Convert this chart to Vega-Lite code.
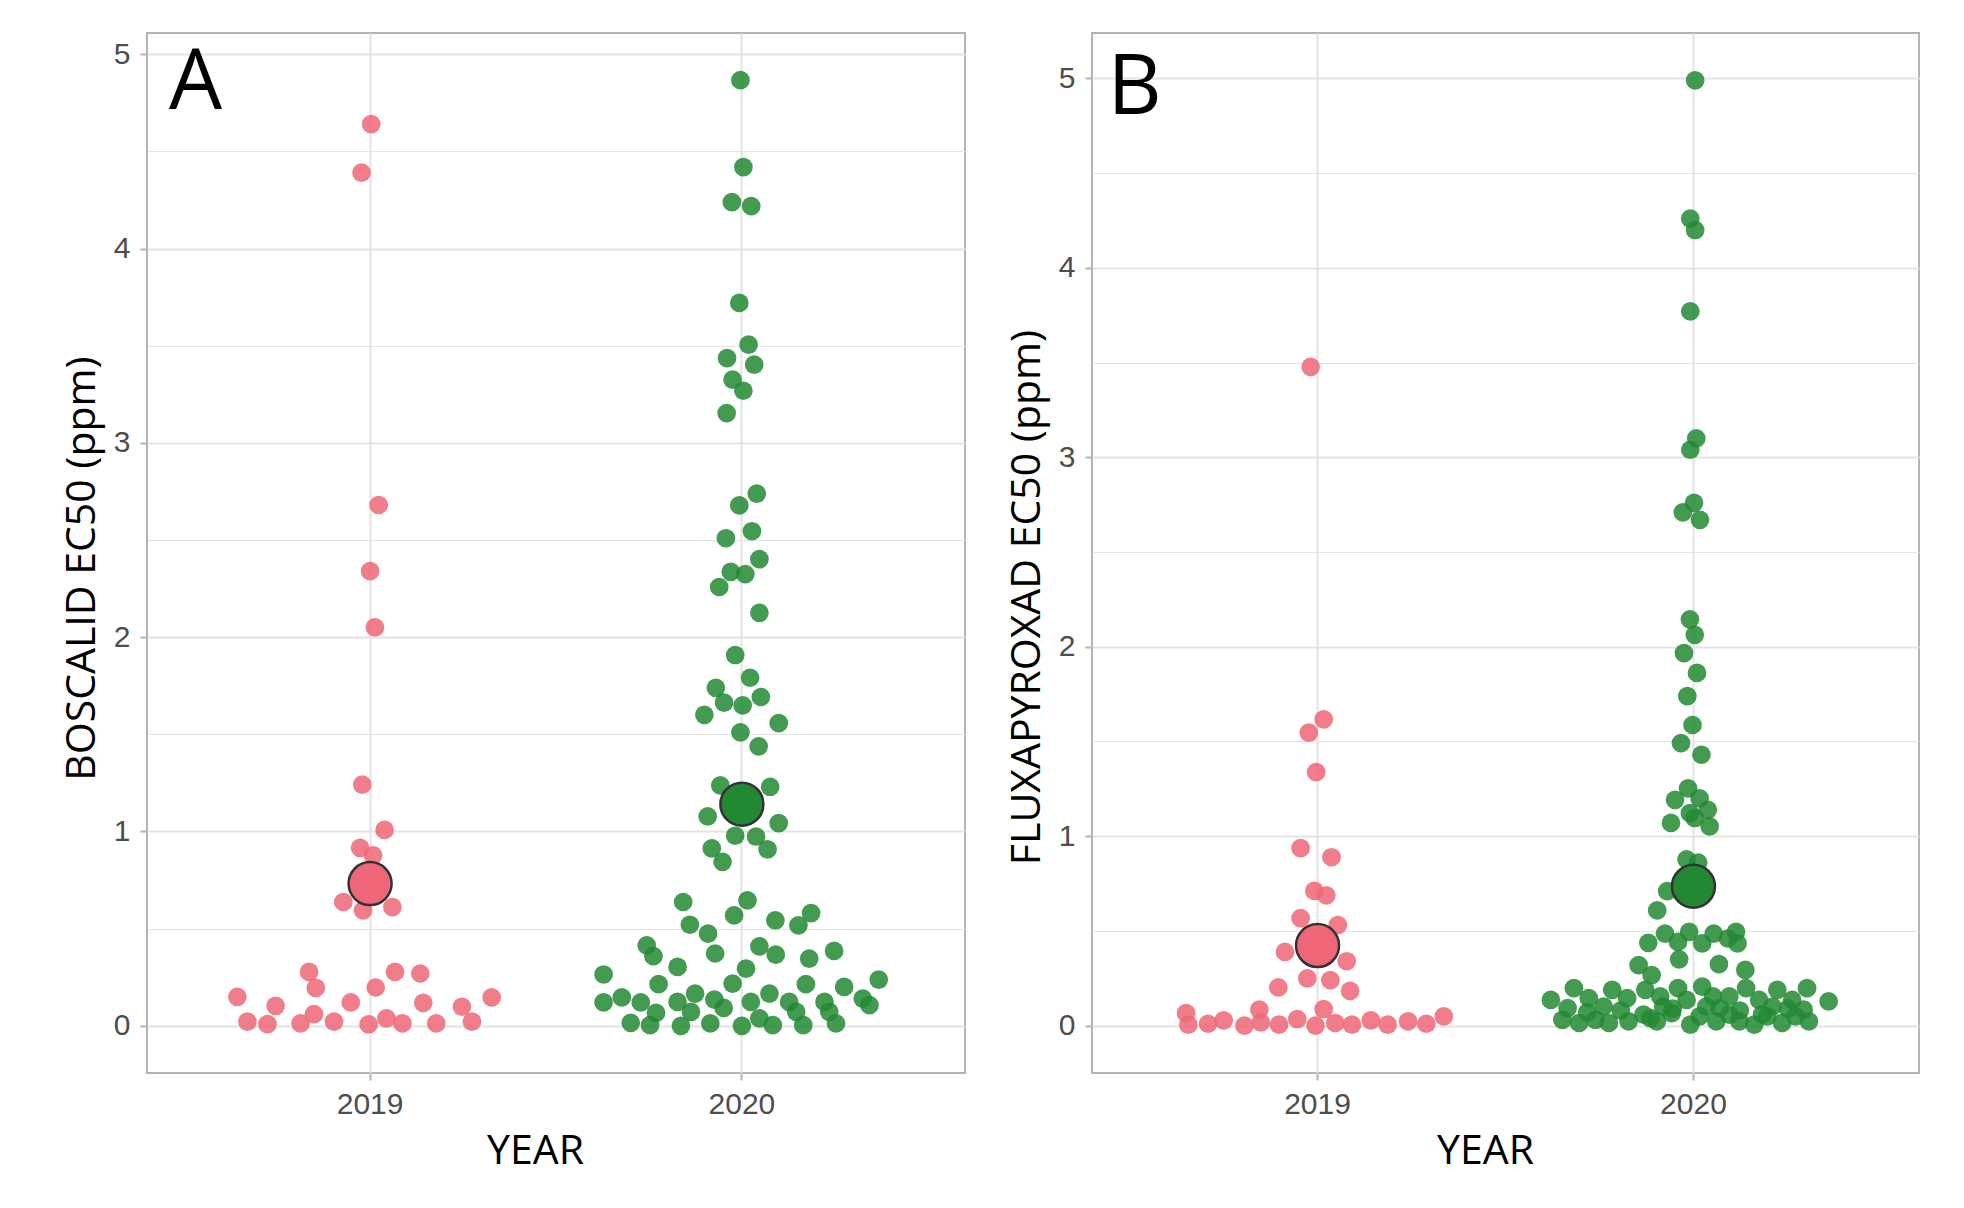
{
  "$schema": "https://vega.github.io/schema/vega-lite/v6.json",
  "background": "white",
  "padding": {"left": 60, "top": 32, "right": 20, "bottom": 22},
  "bounds": "flush",
  "spacing": 127,
  "config": {
    "view": {"stroke": "#B3B3B3", "strokeWidth": 2},
    "axis": {
      "domain": false,
      "labelFont": "Liberation Sans",
      "labelFontSize": 30,
      "labelColor": "#4D4D4D",
      "tickColor": "#B3B3B3",
      "tickWidth": 2,
      "tickSize": 7,
      "titleFont": "Open Sans",
      "titleFontSize": 41,
      "titleFontWeight": "normal",
      "titleColor": "black",
      "gridColor": "#E3E3E3",
      "gridWidth": 2
    }
  },
  "datasets": {
    "boscalid": [
      {"year": "2019", "dx": 0.003, "ec50": 4.64},
      {"year": "2019", "dx": -0.023, "ec50": 4.39},
      {"year": "2019", "dx": 0.023, "ec50": 2.68},
      {"year": "2019", "dx": 0.0, "ec50": 2.34},
      {"year": "2019", "dx": 0.013, "ec50": 2.05},
      {"year": "2019", "dx": -0.021, "ec50": 1.241},
      {"year": "2019", "dx": 0.039, "ec50": 1.008},
      {"year": "2019", "dx": -0.027, "ec50": 0.916},
      {"year": "2019", "dx": 0.008, "ec50": 0.877},
      {"year": "2019", "dx": -0.072, "ec50": 0.637},
      {"year": "2019", "dx": -0.019, "ec50": 0.594},
      {"year": "2019", "dx": 0.06, "ec50": 0.611},
      {"year": "2019", "dx": -0.164, "ec50": 0.277},
      {"year": "2019", "dx": -0.146, "ec50": 0.195},
      {"year": "2019", "dx": -0.357, "ec50": 0.149},
      {"year": "2019", "dx": -0.254, "ec50": 0.103},
      {"year": "2019", "dx": -0.33, "ec50": 0.021},
      {"year": "2019", "dx": -0.276, "ec50": 0.009},
      {"year": "2019", "dx": -0.187, "ec50": 0.012},
      {"year": "2019", "dx": -0.151, "ec50": 0.06},
      {"year": "2019", "dx": -0.097, "ec50": 0.021},
      {"year": "2019", "dx": -0.052, "ec50": 0.12},
      {"year": "2019", "dx": -0.004, "ec50": 0.007},
      {"year": "2019", "dx": 0.015, "ec50": 0.197},
      {"year": "2019", "dx": 0.044, "ec50": 0.038},
      {"year": "2019", "dx": 0.067, "ec50": 0.277},
      {"year": "2019", "dx": 0.087, "ec50": 0.012},
      {"year": "2019", "dx": 0.135, "ec50": 0.269},
      {"year": "2019", "dx": 0.143, "ec50": 0.118},
      {"year": "2019", "dx": 0.178, "ec50": 0.012},
      {"year": "2019", "dx": 0.247, "ec50": 0.098},
      {"year": "2019", "dx": 0.274, "ec50": 0.021},
      {"year": "2019", "dx": 0.327, "ec50": 0.146},
      {"year": "2020", "dx": -0.004, "ec50": 4.866},
      {"year": "2020", "dx": 0.004, "ec50": 4.419},
      {"year": "2020", "dx": -0.027, "ec50": 4.239},
      {"year": "2020", "dx": 0.025, "ec50": 4.218},
      {"year": "2020", "dx": -0.007, "ec50": 3.72},
      {"year": "2020", "dx": 0.018, "ec50": 3.505},
      {"year": "2020", "dx": -0.04, "ec50": 3.436},
      {"year": "2020", "dx": 0.033, "ec50": 3.402},
      {"year": "2020", "dx": -0.025, "ec50": 3.325},
      {"year": "2020", "dx": 0.004, "ec50": 3.268},
      {"year": "2020", "dx": -0.041, "ec50": 3.153},
      {"year": "2020", "dx": 0.04, "ec50": 2.739},
      {"year": "2020", "dx": -0.007, "ec50": 2.678},
      {"year": "2020", "dx": 0.027, "ec50": 2.545},
      {"year": "2020", "dx": -0.043, "ec50": 2.509},
      {"year": "2020", "dx": 0.047, "ec50": 2.401},
      {"year": "2020", "dx": -0.03, "ec50": 2.336},
      {"year": "2020", "dx": 0.009, "ec50": 2.324},
      {"year": "2020", "dx": -0.061, "ec50": 2.258},
      {"year": "2020", "dx": 0.047, "ec50": 2.125},
      {"year": "2020", "dx": -0.018, "ec50": 1.908},
      {"year": "2020", "dx": 0.022, "ec50": 1.791},
      {"year": "2020", "dx": -0.07, "ec50": 1.739},
      {"year": "2020", "dx": -0.048, "ec50": 1.663},
      {"year": "2020", "dx": 0.002, "ec50": 1.649},
      {"year": "2020", "dx": 0.051, "ec50": 1.692},
      {"year": "2020", "dx": -0.101, "ec50": 1.6},
      {"year": "2020", "dx": 0.099, "ec50": 1.557},
      {"year": "2020", "dx": -0.004, "ec50": 1.51},
      {"year": "2020", "dx": 0.045, "ec50": 1.438},
      {"year": "2020", "dx": -0.058, "ec50": 1.237},
      {"year": "2020", "dx": 0.076, "ec50": 1.23},
      {"year": "2020", "dx": -0.092, "ec50": 1.078},
      {"year": "2020", "dx": 0.099, "ec50": 1.043},
      {"year": "2020", "dx": -0.018, "ec50": 0.978},
      {"year": "2020", "dx": 0.038, "ec50": 0.974},
      {"year": "2020", "dx": -0.081, "ec50": 0.913},
      {"year": "2020", "dx": 0.069, "ec50": 0.908},
      {"year": "2020", "dx": -0.052, "ec50": 0.844},
      {"year": "2020", "dx": -0.158, "ec50": 0.637},
      {"year": "2020", "dx": 0.015, "ec50": 0.645},
      {"year": "2020", "dx": -0.021, "ec50": 0.568},
      {"year": "2020", "dx": -0.14, "ec50": 0.52},
      {"year": "2020", "dx": 0.09, "ec50": 0.543},
      {"year": "2020", "dx": 0.186, "ec50": 0.58},
      {"year": "2020", "dx": 0.152, "ec50": 0.517},
      {"year": "2020", "dx": -0.091, "ec50": 0.474},
      {"year": "2020", "dx": -0.256, "ec50": 0.414},
      {"year": "2020", "dx": -0.238, "ec50": 0.358},
      {"year": "2020", "dx": -0.072, "ec50": 0.372},
      {"year": "2020", "dx": 0.047, "ec50": 0.409},
      {"year": "2020", "dx": 0.091, "ec50": 0.366},
      {"year": "2020", "dx": 0.181, "ec50": 0.346},
      {"year": "2020", "dx": 0.248, "ec50": 0.385},
      {"year": "2020", "dx": -0.372, "ec50": 0.264},
      {"year": "2020", "dx": -0.173, "ec50": 0.303},
      {"year": "2020", "dx": -0.224, "ec50": 0.214},
      {"year": "2020", "dx": 0.011, "ec50": 0.294},
      {"year": "2020", "dx": -0.025, "ec50": 0.217},
      {"year": "2020", "dx": 0.172, "ec50": 0.214},
      {"year": "2020", "dx": 0.275, "ec50": 0.2},
      {"year": "2020", "dx": 0.368, "ec50": 0.238},
      {"year": "2020", "dx": -0.372, "ec50": 0.12},
      {"year": "2020", "dx": -0.323, "ec50": 0.146},
      {"year": "2020", "dx": -0.272, "ec50": 0.12},
      {"year": "2020", "dx": -0.231, "ec50": 0.067},
      {"year": "2020", "dx": -0.173, "ec50": 0.123},
      {"year": "2020", "dx": -0.126, "ec50": 0.166},
      {"year": "2020", "dx": -0.137, "ec50": 0.072},
      {"year": "2020", "dx": -0.074, "ec50": 0.135},
      {"year": "2020", "dx": -0.049, "ec50": 0.092},
      {"year": "2020", "dx": 0.024, "ec50": 0.123},
      {"year": "2020", "dx": 0.074, "ec50": 0.166},
      {"year": "2020", "dx": 0.127, "ec50": 0.123},
      {"year": "2020", "dx": 0.146, "ec50": 0.072},
      {"year": "2020", "dx": 0.222, "ec50": 0.123},
      {"year": "2020", "dx": 0.235, "ec50": 0.072},
      {"year": "2020", "dx": 0.325, "ec50": 0.14},
      {"year": "2020", "dx": 0.343, "ec50": 0.106},
      {"year": "2020", "dx": -0.299, "ec50": 0.015},
      {"year": "2020", "dx": -0.247, "ec50": 0.003},
      {"year": "2020", "dx": -0.164, "ec50": 0.0},
      {"year": "2020", "dx": -0.085, "ec50": 0.012},
      {"year": "2020", "dx": 0.0, "ec50": 0.0},
      {"year": "2020", "dx": 0.047, "ec50": 0.038},
      {"year": "2020", "dx": 0.083, "ec50": 0.003},
      {"year": "2020", "dx": 0.165, "ec50": 0.003},
      {"year": "2020", "dx": 0.253, "ec50": 0.012}
    ],
    "fluxapyroxad": [
      {"year": "2019", "dx": -0.013, "ec50": 3.478},
      {"year": "2019", "dx": 0.022, "ec50": 1.617},
      {"year": "2019", "dx": -0.018, "ec50": 1.547},
      {"year": "2019", "dx": 0.002, "ec50": 1.338},
      {"year": "2019", "dx": -0.04, "ec50": 0.937},
      {"year": "2019", "dx": 0.043, "ec50": 0.889},
      {"year": "2019", "dx": -0.003, "ec50": 0.711},
      {"year": "2019", "dx": 0.029, "ec50": 0.688},
      {"year": "2019", "dx": -0.04, "ec50": 0.568},
      {"year": "2019", "dx": 0.06, "ec50": 0.531},
      {"year": "2019", "dx": -0.082, "ec50": 0.389},
      {"year": "2019", "dx": 0.084, "ec50": 0.34},
      {"year": "2019", "dx": -0.022, "ec50": 0.249},
      {"year": "2019", "dx": 0.04, "ec50": 0.24},
      {"year": "2019", "dx": -0.1, "ec50": 0.202},
      {"year": "2019", "dx": 0.093, "ec50": 0.183},
      {"year": "2019", "dx": -0.348, "ec50": 0.066},
      {"year": "2019", "dx": -0.342, "ec50": 0.005},
      {"year": "2019", "dx": -0.289, "ec50": 0.01},
      {"year": "2019", "dx": -0.247, "ec50": 0.028},
      {"year": "2019", "dx": -0.191, "ec50": 0.0},
      {"year": "2019", "dx": -0.151, "ec50": 0.084},
      {"year": "2019", "dx": -0.147, "ec50": 0.017},
      {"year": "2019", "dx": -0.098, "ec50": 0.005},
      {"year": "2019", "dx": -0.049, "ec50": 0.035},
      {"year": "2019", "dx": 0.0, "ec50": 0.0},
      {"year": "2019", "dx": 0.022, "ec50": 0.087},
      {"year": "2019", "dx": 0.053, "ec50": 0.014},
      {"year": "2019", "dx": 0.098, "ec50": 0.005},
      {"year": "2019", "dx": 0.149, "ec50": 0.028},
      {"year": "2019", "dx": 0.194, "ec50": 0.005},
      {"year": "2019", "dx": 0.249, "ec50": 0.023},
      {"year": "2019", "dx": 0.298, "ec50": 0.01},
      {"year": "2019", "dx": 0.345, "ec50": 0.049},
      {"year": "2020", "dx": 0.01, "ec50": 4.99},
      {"year": "2020", "dx": -0.003, "ec50": 4.26},
      {"year": "2020", "dx": 0.01, "ec50": 4.2},
      {"year": "2020", "dx": -0.003, "ec50": 3.77},
      {"year": "2020", "dx": 0.013, "ec50": 3.1},
      {"year": "2020", "dx": -0.003, "ec50": 3.04},
      {"year": "2020", "dx": 0.007, "ec50": 2.76},
      {"year": "2020", "dx": -0.023, "ec50": 2.71},
      {"year": "2020", "dx": 0.023, "ec50": 2.67},
      {"year": "2020", "dx": -0.004, "ec50": 2.145},
      {"year": "2020", "dx": 0.009, "ec50": 2.063},
      {"year": "2020", "dx": -0.02, "ec50": 1.967},
      {"year": "2020", "dx": 0.015, "ec50": 1.862},
      {"year": "2020", "dx": -0.011, "ec50": 1.74},
      {"year": "2020", "dx": 0.003, "ec50": 1.587},
      {"year": "2020", "dx": -0.028, "ec50": 1.491},
      {"year": "2020", "dx": 0.027, "ec50": 1.43},
      {"year": "2020", "dx": -0.009, "ec50": 1.253},
      {"year": "2020", "dx": -0.044, "ec50": 1.192},
      {"year": "2020", "dx": 0.022, "ec50": 1.2},
      {"year": "2020", "dx": -0.004, "ec50": 1.122},
      {"year": "2020", "dx": 0.044, "ec50": 1.139},
      {"year": "2020", "dx": -0.055, "ec50": 1.07},
      {"year": "2020", "dx": 0.049, "ec50": 1.052},
      {"year": "2020", "dx": 0.009, "ec50": 1.096},
      {"year": "2020", "dx": -0.013, "ec50": 0.878},
      {"year": "2020", "dx": 0.018, "ec50": 0.861},
      {"year": "2020", "dx": -0.065, "ec50": 0.71},
      {"year": "2020", "dx": -0.092, "ec50": 0.608},
      {"year": "2020", "dx": -0.116, "ec50": 0.437},
      {"year": "2020", "dx": -0.071, "ec50": 0.486},
      {"year": "2020", "dx": -0.036, "ec50": 0.442},
      {"year": "2020", "dx": -0.006, "ec50": 0.495},
      {"year": "2020", "dx": 0.029, "ec50": 0.434},
      {"year": "2020", "dx": 0.06, "ec50": 0.486},
      {"year": "2020", "dx": 0.098, "ec50": 0.46},
      {"year": "2020", "dx": 0.12, "ec50": 0.495},
      {"year": "2020", "dx": 0.124, "ec50": 0.434},
      {"year": "2020", "dx": -0.033, "ec50": 0.35},
      {"year": "2020", "dx": -0.142, "ec50": 0.32},
      {"year": "2020", "dx": -0.107, "ec50": 0.267},
      {"year": "2020", "dx": 0.074, "ec50": 0.325},
      {"year": "2020", "dx": 0.145, "ec50": 0.294},
      {"year": "2020", "dx": -0.378, "ec50": 0.136},
      {"year": "2020", "dx": -0.316, "ec50": 0.198},
      {"year": "2020", "dx": -0.276, "ec50": 0.145},
      {"year": "2020", "dx": -0.213, "ec50": 0.189},
      {"year": "2020", "dx": -0.173, "ec50": 0.145},
      {"year": "2020", "dx": -0.124, "ec50": 0.189},
      {"year": "2020", "dx": -0.084, "ec50": 0.154},
      {"year": "2020", "dx": -0.036, "ec50": 0.198},
      {"year": "2020", "dx": -0.013, "ec50": 0.136},
      {"year": "2020", "dx": 0.029, "ec50": 0.206},
      {"year": "2020", "dx": 0.058, "ec50": 0.154},
      {"year": "2020", "dx": 0.102, "ec50": 0.154},
      {"year": "2020", "dx": 0.147, "ec50": 0.198},
      {"year": "2020", "dx": 0.182, "ec50": 0.136},
      {"year": "2020", "dx": 0.231, "ec50": 0.189},
      {"year": "2020", "dx": 0.271, "ec50": 0.136},
      {"year": "2020", "dx": 0.311, "ec50": 0.198},
      {"year": "2020", "dx": 0.369, "ec50": 0.128},
      {"year": "2020", "dx": -0.333, "ec50": 0.093},
      {"year": "2020", "dx": -0.236, "ec50": 0.101},
      {"year": "2020", "dx": -0.076, "ec50": 0.101},
      {"year": "2020", "dx": 0.076, "ec50": 0.093},
      {"year": "2020", "dx": 0.218, "ec50": 0.101},
      {"year": "2020", "dx": 0.302, "ec50": 0.084},
      {"year": "2020", "dx": -0.19, "ec50": 0.08},
      {"year": "2020", "dx": -0.05, "ec50": 0.09},
      {"year": "2020", "dx": 0.04, "ec50": 0.1},
      {"year": "2020", "dx": 0.13, "ec50": 0.08},
      {"year": "2020", "dx": 0.26, "ec50": 0.09},
      {"year": "2020", "dx": -0.28, "ec50": 0.07},
      {"year": "2020", "dx": 0.19, "ec50": 0.06},
      {"year": "2020", "dx": -0.11, "ec50": 0.04},
      {"year": "2020", "dx": -0.347, "ec50": 0.031},
      {"year": "2020", "dx": -0.302, "ec50": 0.014},
      {"year": "2020", "dx": -0.258, "ec50": 0.031},
      {"year": "2020", "dx": -0.222, "ec50": 0.014},
      {"year": "2020", "dx": -0.169, "ec50": 0.023},
      {"year": "2020", "dx": -0.129, "ec50": 0.058},
      {"year": "2020", "dx": -0.093, "ec50": 0.023},
      {"year": "2020", "dx": -0.053, "ec50": 0.066},
      {"year": "2020", "dx": -0.003, "ec50": 0.005},
      {"year": "2020", "dx": 0.022, "ec50": 0.049},
      {"year": "2020", "dx": 0.067, "ec50": 0.023},
      {"year": "2020", "dx": 0.102, "ec50": 0.058},
      {"year": "2020", "dx": 0.129, "ec50": 0.023},
      {"year": "2020", "dx": 0.169, "ec50": 0.005},
      {"year": "2020", "dx": 0.204, "ec50": 0.049},
      {"year": "2020", "dx": 0.244, "ec50": 0.014},
      {"year": "2020", "dx": 0.28, "ec50": 0.049},
      {"year": "2020", "dx": 0.316, "ec50": 0.023}
    ]
  },
  "hconcat": [
    {
      "width": 818,
      "height": 1040,
      "data": {"name": "boscalid"},
      "encoding": {
        "x": {"field": "year", "type": "nominal",
          "scale": {"type": "band", "paddingInner": 0, "paddingOuter": 0.1},
          "axis": {"title": "YEAR", "labelAngle": 0, "labelPadding": 9, "titlePadding": 12, "titleX": 388, "grid": true}},
        "y": {"field": "ec50", "type": "quantitative",
          "scale": {"domain": [-0.243, 5.109], "nice": false, "zero": false},
          "axis": {"title": "BOSCALID EC50 (ppm)", "values": [0, 0.5, 1, 1.5, 2, 2.5, 3, 3.5, 4, 4.5, 5],
            "labelExpr": "datum.value % 1 === 0 ? format(datum.value, 'd') : ''",
            "labelPadding": 10, "titlePadding": 10, "titleY": 535,
            "gridWidth": {"condition": {"test": "datum.value % 1 !== 0", "value": 1}, "value": 2},
            "tickOpacity": {"condition": {"test": "datum.value % 1 !== 0", "value": 0}, "value": 1}}},
        "color": {"field": "year", "type": "nominal", "scale": {"domain": ["2019", "2020"], "range": ["#EE6677", "#228833"]}, "legend": null}
      },
      "layer": [
        {"mark": {"type": "circle", "size": 350, "opacity": 0.85},
          "encoding": {"xOffset": {"field": "dx", "type": "quantitative", "scale": {"domain": [-0.5, 0.5]}}}},
        {"transform": [{"aggregate": [{"op": "mean", "field": "ec50", "as": "ec50"}], "groupby": ["year"]}],
          "mark": {"type": "circle", "size": 1850, "opacity": 1, "stroke": "#333333", "strokeWidth": 2.5}},
        {"data": {"values": [{"label": "A", "year": "2019", "ec50": 4.72}]},
          "mark": {"type": "text", "fontSize": 84, "font": "Open Sans", "color": "black", "align": "left", "baseline": "alphabetic", "dx": -201},
          "encoding": {"text": {"field": "label"}, "color": {"value": "black"}}}
      ]
    },
    {
      "width": 827,
      "height": 1040,
      "data": {"name": "fluxapyroxad"},
      "encoding": {
        "x": {"field": "year", "type": "nominal",
          "scale": {"type": "band", "paddingInner": 0, "paddingOuter": 0.1},
          "axis": {"title": "YEAR", "labelAngle": 0, "labelPadding": 9, "titlePadding": 12, "titleX": 393, "grid": true}},
        "y": {"field": "ec50", "type": "quantitative",
          "scale": {"domain": [-0.25, 5.24], "nice": false, "zero": false},
          "axis": {"title": "FLUXAPYROXAD EC50 (ppm)", "values": [0, 0.5, 1, 1.5, 2, 2.5, 3, 3.5, 4, 4.5, 5],
            "labelExpr": "datum.value % 1 === 0 ? format(datum.value, 'd') : ''",
            "labelPadding": 10, "titlePadding": 10, "titleY": 564,
            "gridWidth": {"condition": {"test": "datum.value % 1 !== 0", "value": 1}, "value": 2},
            "tickOpacity": {"condition": {"test": "datum.value % 1 !== 0", "value": 0}, "value": 1}}},
        "color": {"field": "year", "type": "nominal", "scale": {"domain": ["2019", "2020"], "range": ["#EE6677", "#228833"]}, "legend": null}
      },
      "layer": [
        {"mark": {"type": "circle", "size": 350, "opacity": 0.85},
          "encoding": {"xOffset": {"field": "dx", "type": "quantitative", "scale": {"domain": [-0.5, 0.5]}}}},
        {"transform": [{"aggregate": [{"op": "mean", "field": "ec50", "as": "ec50"}], "groupby": ["year"]}],
          "mark": {"type": "circle", "size": 1850, "opacity": 1, "stroke": "#333333", "strokeWidth": 2.5}},
        {"data": {"values": [{"label": "B", "year": "2019", "ec50": 4.81}]},
          "mark": {"type": "text", "fontSize": 84, "font": "Open Sans", "color": "black", "align": "left", "baseline": "alphabetic", "dx": -210},
          "encoding": {"text": {"field": "label"}, "color": {"value": "black"}}}
      ]
    }
  ]
}
